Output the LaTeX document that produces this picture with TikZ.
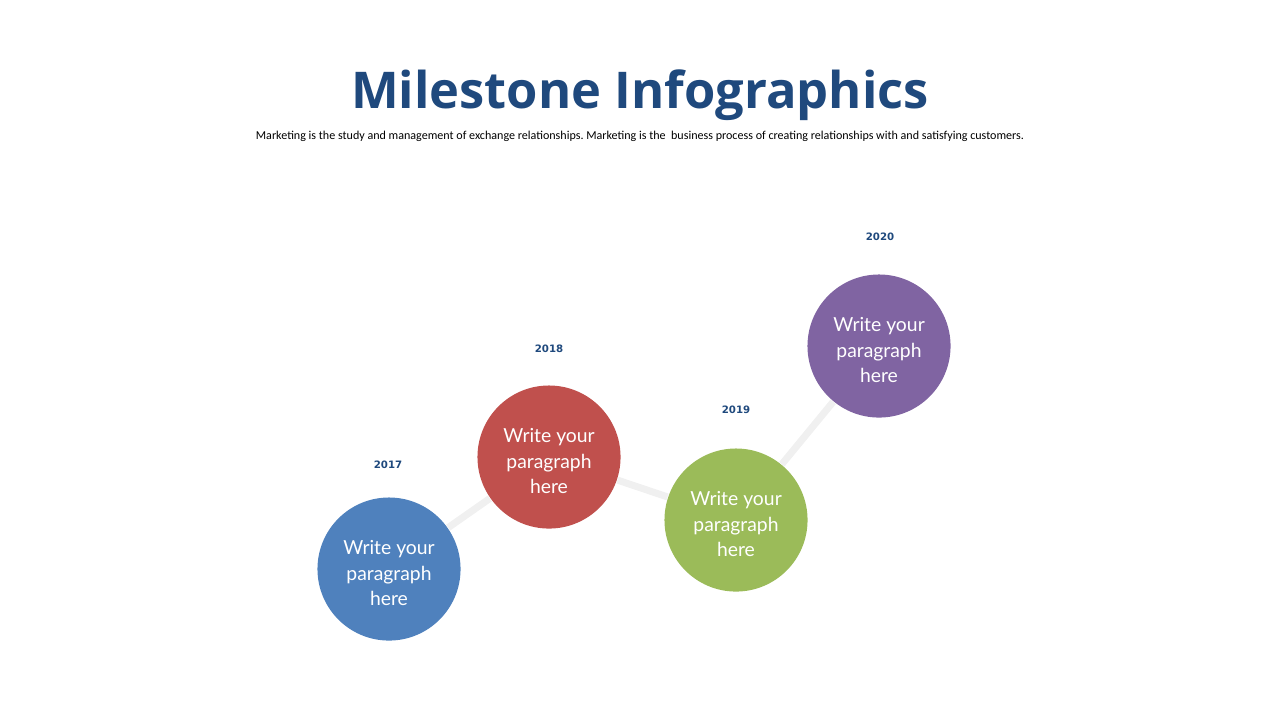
\documentclass[tikz,border=0pt]{standalone}
\usepackage{fontspec}
\setmainfont{Lato}
\newfontfamily\headfont{Open Sans}
\newfontfamily\bodyfont{Carlito}
\newfontfamily\yearfont{DejaVu Sans}
\definecolor{navy}{HTML}{1F497D}
\definecolor{mblue}{HTML}{4F81BD}
\definecolor{mred}{HTML}{C0504D}
\definecolor{mgreen}{HTML}{9BBB59}
\definecolor{mpurple}{HTML}{8064A2}
\definecolor{track}{HTML}{F0F0F0}
\frenchspacing

\begin{document}
\begin{tikzpicture}[x=0.01cm, y=-0.01cm,
	para/.style={text=white, align=center, yshift=-0.04cm, font=\fontsize{5.5pt}{7.25pt}\selectfont},
	milestone/.style={circle, minimum size=1.43cm, inner sep=0pt,
		label={[para]center:{Write your\\paragraph\\here}}},
	year/.style={text=navy, font=\yearfont\bfseries\fontsize{2.9pt}{4pt}\selectfont},
	link/.style={draw=track, line width=2pt}]
	\useasboundingbox (0,0) rectangle (1280,720);
	\node (title) at (640,95) {\headfont\bfseries\fontsize{14.4pt}{17pt}\selectfont\color{navy}Milestone Infographics};
	\node (sub) at (640,136) {\bodyfont\fontsize{3.43pt}{4pt}\selectfont Marketing is the study and management of exchange relationships. Marketing is the\ \ business process of creating relationships with and satisfying customers.};

	\node[milestone, fill=mblue] (m1) at (389,569) {};
	\node[milestone, fill=mred] (m2) at (549,457) {};
	\node[milestone, fill=mgreen] (m3) at (736,520) {};
	\node[milestone, fill=mpurple] (m4) at (879,346) {};

	\draw[link] (m1) -- (m2);
	\draw[link] (m2) -- (m3);
	\draw[link] (m3) -- (m4);

	\node[year] (y1) at (388,465) {2017};
	\node[year] (y2) at (549,349) {2018};
	\node[year] (y3) at (736,410) {2019};
	\node[year] (y4) at (880,237) {2020};
\end{tikzpicture}
\end{document}
